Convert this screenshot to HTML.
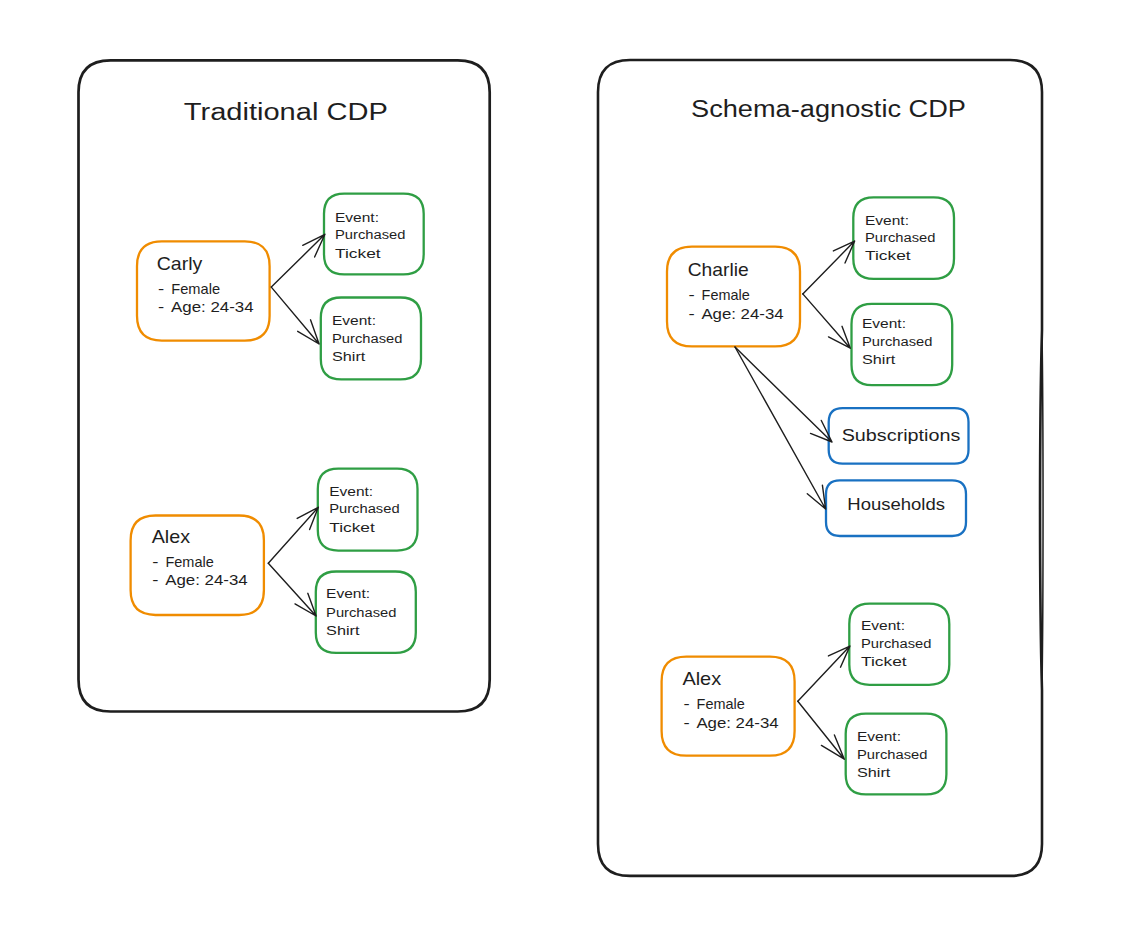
<!DOCTYPE html>
<html><head><meta charset="utf-8"><style>
html,body{margin:0;padding:0;background:#ffffff;}
body{width:1134px;height:928px;overflow:hidden;}
svg{display:block;}
text{font-family:"Liberation Sans",sans-serif;fill:#1e1e1e;}
</style></head><body>
<svg width="1134" height="928" viewBox="0 0 1134 928">
<rect width="1134" height="928" fill="#ffffff"/>
<path d="M110.50 60.30 L457.70 60.30 Q489.70 60.30 489.70 92.30 L489.70 679.50 Q489.70 711.50 457.70 711.50 L110.50 711.50 Q78.50 711.50 78.50 679.50 L78.50 92.30 Q78.50 60.30 110.50 60.30 Z" fill="none" stroke="#1e1e1e" stroke-width="2.7" stroke-linejoin="round"/>
<path d="M630 60 L1010 60 Q1042 60 1042 92 L1042 330 C1039.4 420 1039.4 600 1042 690 L1042 843.9 Q1042 875.9 1010 875.9 L630 875.9 Q598 875.9 598 843.9 L598 92 Q598 60 630 60 Z" fill="none" stroke="#1e1e1e" stroke-width="2.6" stroke-linejoin="round"/>
<path d="M1042 330 C1043.4 420 1043.4 600 1042 690" fill="none" stroke="#1e1e1e" stroke-width="1.5"/>
<path d="M161.85 241.30 L244.75 241.30 Q269.60 241.30 269.60 266.15 L269.60 315.85 Q269.60 340.70 244.75 340.70 L161.85 340.70 Q137.00 340.70 137.00 315.85 L137.00 266.15 Q137.00 241.30 161.85 241.30 Z" fill="none" stroke="#f08c00" stroke-width="2.3" stroke-linejoin="round"/>
<path d="M155.47 515.50 L239.02 515.50 Q263.90 515.50 263.90 540.38 L263.90 590.12 Q263.90 615.00 239.02 615.00 L155.47 615.00 Q130.60 615.00 130.60 590.12 L130.60 540.38 Q130.60 515.50 155.47 515.50 Z" fill="none" stroke="#f08c00" stroke-width="2.3" stroke-linejoin="round"/>
<path d="M691.95 246.60 L775.05 246.60 Q800.00 246.60 800.00 271.55 L800.00 321.45 Q800.00 346.40 775.05 346.40 L691.95 346.40 Q667.00 346.40 667.00 321.45 L667.00 271.55 Q667.00 246.60 691.95 246.60 Z" fill="none" stroke="#f08c00" stroke-width="2.3" stroke-linejoin="round"/>
<path d="M686.38 656.60 L769.83 656.60 Q794.60 656.60 794.60 681.38 L794.60 730.93 Q794.60 755.70 769.83 755.70 L686.38 755.70 Q661.60 755.70 661.60 730.93 L661.60 681.38 Q661.60 656.60 686.38 656.60 Z" fill="none" stroke="#f08c00" stroke-width="2.3" stroke-linejoin="round"/>
<path d="M344.20 193.60 L403.50 193.60 Q423.70 193.60 423.70 213.80 L423.70 254.20 Q423.70 274.40 403.50 274.40 L344.20 274.40 Q324.00 274.40 324.00 254.20 L324.00 213.80 Q324.00 193.60 344.20 193.60 Z" fill="none" stroke="#2f9e44" stroke-width="2.3" stroke-linejoin="round"/>
<path d="M341.27 297.50 L400.52 297.50 Q421.00 297.50 421.00 317.98 L421.00 358.92 Q421.00 379.40 400.52 379.40 L341.27 379.40 Q320.80 379.40 320.80 358.92 L320.80 317.98 Q320.80 297.50 341.27 297.50 Z" fill="none" stroke="#2f9e44" stroke-width="2.3" stroke-linejoin="round"/>
<path d="M338.30 468.60 L397.00 468.60 Q417.50 468.60 417.50 489.10 L417.50 530.10 Q417.50 550.60 397.00 550.60 L338.30 550.60 Q317.80 550.60 317.80 530.10 L317.80 489.10 Q317.80 468.60 338.30 468.60 Z" fill="none" stroke="#2f9e44" stroke-width="2.3" stroke-linejoin="round"/>
<path d="M336.15 571.50 L395.45 571.50 Q415.80 571.50 415.80 591.85 L415.80 632.55 Q415.80 652.90 395.45 652.90 L336.15 652.90 Q315.80 652.90 315.80 632.55 L315.80 591.85 Q315.80 571.50 336.15 571.50 Z" fill="none" stroke="#2f9e44" stroke-width="2.3" stroke-linejoin="round"/>
<path d="M873.67 197.40 L933.62 197.40 Q954.00 197.40 954.00 217.78 L954.00 258.52 Q954.00 278.90 933.62 278.90 L873.67 278.90 Q853.30 278.90 853.30 258.52 L853.30 217.78 Q853.30 197.40 873.67 197.40 Z" fill="none" stroke="#2f9e44" stroke-width="2.3" stroke-linejoin="round"/>
<path d="M871.85 303.80 L931.85 303.80 Q952.20 303.80 952.20 324.15 L952.20 364.85 Q952.20 385.20 931.85 385.20 L871.85 385.20 Q851.50 385.20 851.50 364.85 L851.50 324.15 Q851.50 303.80 871.85 303.80 Z" fill="none" stroke="#2f9e44" stroke-width="2.3" stroke-linejoin="round"/>
<path d="M869.57 603.70 L929.02 603.70 Q949.30 603.70 949.30 623.98 L949.30 664.52 Q949.30 684.80 929.02 684.80 L869.57 684.80 Q849.30 684.80 849.30 664.52 L849.30 623.98 Q849.30 603.70 869.57 603.70 Z" fill="none" stroke="#2f9e44" stroke-width="2.3" stroke-linejoin="round"/>
<path d="M865.85 713.70 L926.25 713.70 Q946.40 713.70 946.40 733.85 L946.40 774.15 Q946.40 794.30 926.25 794.30 L865.85 794.30 Q845.70 794.30 845.70 774.15 L845.70 733.85 Q845.70 713.70 865.85 713.70 Z" fill="none" stroke="#2f9e44" stroke-width="2.3" stroke-linejoin="round"/>
<path d="M842.58 408.20 L954.62 408.20 Q968.50 408.20 968.50 422.07 L968.50 449.82 Q968.50 463.70 954.62 463.70 L842.58 463.70 Q828.70 463.70 828.70 449.82 L828.70 422.07 Q828.70 408.20 842.58 408.20 Z" fill="none" stroke="#1971c2" stroke-width="2.3" stroke-linejoin="round"/>
<path d="M839.92 480.30 L952.08 480.30 Q966.00 480.30 966.00 494.23 L966.00 522.08 Q966.00 536.00 952.08 536.00 L839.92 536.00 Q826.00 536.00 826.00 522.08 L826.00 494.23 Q826.00 480.30 839.92 480.30 Z" fill="none" stroke="#1971c2" stroke-width="2.3" stroke-linejoin="round"/>
<path d="M271.3 287.1 L324.9 234.3 M302.7 245.3 L324.9 234.3 L314.6 257" fill="none" stroke="#1e1e1e" stroke-width="1.4" stroke-linecap="round" stroke-linejoin="round"/>
<path d="M271.3 287.1 L319.1 344 M297.7 331.3 L319.1 344 L310.5 319.8" fill="none" stroke="#1e1e1e" stroke-width="1.4" stroke-linecap="round" stroke-linejoin="round"/>
<path d="M268.3 563.2 L318.3 507.3 M297.2 518.4 L318.3 507.3 L309.6 529.5" fill="none" stroke="#1e1e1e" stroke-width="1.4" stroke-linecap="round" stroke-linejoin="round"/>
<path d="M268.3 563.2 L316.1 616 M295 603.9 L316.1 616 L307.8 593.3" fill="none" stroke="#1e1e1e" stroke-width="1.4" stroke-linecap="round" stroke-linejoin="round"/>
<path d="M802.8 293.9 L854.6 241.1 M833.4 250.9 L854.6 241.1 L845 263" fill="none" stroke="#1e1e1e" stroke-width="1.4" stroke-linecap="round" stroke-linejoin="round"/>
<path d="M802.8 293.9 L850.3 348.2 M828.5 336.9 L850.3 348.2 L842 326.3" fill="none" stroke="#1e1e1e" stroke-width="1.4" stroke-linecap="round" stroke-linejoin="round"/>
<path d="M735 347 L832 442 M810.5 433.4 L832 442 L821.3 420.5" fill="none" stroke="#1e1e1e" stroke-width="1.4" stroke-linecap="round" stroke-linejoin="round"/>
<path d="M735 347 L825.6 509 M807.3 493.8 L825.6 509 L822.4 485.2" fill="none" stroke="#1e1e1e" stroke-width="1.4" stroke-linecap="round" stroke-linejoin="round"/>
<path d="M797.8 701.2 L849.9 646.1 M828.4 655.9 L849.9 646.1 L840.5 667.2" fill="none" stroke="#1e1e1e" stroke-width="1.4" stroke-linecap="round" stroke-linejoin="round"/>
<path d="M797.8 701.2 L844.3 759.2 M821.4 745.4 L844.3 759.2 L834.4 735" fill="none" stroke="#1e1e1e" stroke-width="1.4" stroke-linecap="round" stroke-linejoin="round"/>
<text x="183.8" y="119.9" font-size="23" textLength="204" lengthAdjust="spacingAndGlyphs">Traditional CDP</text>
<text x="691" y="117.3" font-size="23" textLength="275" lengthAdjust="spacingAndGlyphs">Schema-agnostic CDP</text>
<text x="156.7" y="270.2" font-size="17.7" textLength="45.6" lengthAdjust="spacingAndGlyphs">Carly</text>
<text x="158.1" y="293.5" font-size="14.8" textLength="6.2" lengthAdjust="spacingAndGlyphs">-</text>
<text x="158.1" y="311.8" font-size="14.8" textLength="6.2" lengthAdjust="spacingAndGlyphs">-</text>
<text x="171.3" y="293.5" font-size="14.8" textLength="48.8" lengthAdjust="spacingAndGlyphs">Female</text>
<text x="171.1" y="311.8" font-size="14.8" textLength="82.5" lengthAdjust="spacingAndGlyphs">Age: 24-34</text>
<text x="151.7" y="543" font-size="17.7" textLength="38.4" lengthAdjust="spacingAndGlyphs">Alex</text>
<text x="152.2" y="567" font-size="14.8" textLength="6.2" lengthAdjust="spacingAndGlyphs">-</text>
<text x="152.2" y="585.3" font-size="14.8" textLength="6.2" lengthAdjust="spacingAndGlyphs">-</text>
<text x="165.4" y="567" font-size="14.8" textLength="48.4" lengthAdjust="spacingAndGlyphs">Female</text>
<text x="165.2" y="585.3" font-size="14.8" textLength="82.5" lengthAdjust="spacingAndGlyphs">Age: 24-34</text>
<text x="687.7" y="276" font-size="17.7" textLength="61" lengthAdjust="spacingAndGlyphs">Charlie</text>
<text x="688.4" y="300.2" font-size="14.8" textLength="6.2" lengthAdjust="spacingAndGlyphs">-</text>
<text x="688.4" y="319" font-size="14.8" textLength="6.2" lengthAdjust="spacingAndGlyphs">-</text>
<text x="701.6" y="300.2" font-size="14.8" textLength="48.2" lengthAdjust="spacingAndGlyphs">Female</text>
<text x="701.4" y="319" font-size="14.8" textLength="82.2" lengthAdjust="spacingAndGlyphs">Age: 24-34</text>
<text x="682.4" y="685.4" font-size="17.7" textLength="38.8" lengthAdjust="spacingAndGlyphs">Alex</text>
<text x="683.4" y="709.1" font-size="14.8" textLength="6.2" lengthAdjust="spacingAndGlyphs">-</text>
<text x="683.4" y="727.5" font-size="14.8" textLength="6.2" lengthAdjust="spacingAndGlyphs">-</text>
<text x="696.6" y="709.1" font-size="14.8" textLength="48.2" lengthAdjust="spacingAndGlyphs">Female</text>
<text x="696.4" y="727.5" font-size="14.8" textLength="82.2" lengthAdjust="spacingAndGlyphs">Age: 24-34</text>
<text x="335" y="221.6" font-size="12" textLength="44" lengthAdjust="spacingAndGlyphs">Event:</text>
<text x="335" y="239.4" font-size="12" textLength="70.4" lengthAdjust="spacingAndGlyphs">Purchased</text>
<text x="335" y="257.7" font-size="12" textLength="45.6" lengthAdjust="spacingAndGlyphs">Ticket</text>
<text x="332" y="325" font-size="12" textLength="44" lengthAdjust="spacingAndGlyphs">Event:</text>
<text x="332" y="342.8" font-size="12" textLength="70.4" lengthAdjust="spacingAndGlyphs">Purchased</text>
<text x="332" y="360.6" font-size="12" textLength="33.4" lengthAdjust="spacingAndGlyphs">Shirt</text>
<text x="329.2" y="495.5" font-size="12" textLength="44" lengthAdjust="spacingAndGlyphs">Event:</text>
<text x="329.2" y="513.3" font-size="12" textLength="70.4" lengthAdjust="spacingAndGlyphs">Purchased</text>
<text x="329.2" y="531.7" font-size="12" textLength="45.6" lengthAdjust="spacingAndGlyphs">Ticket</text>
<text x="326.1" y="598.4" font-size="12" textLength="44" lengthAdjust="spacingAndGlyphs">Event:</text>
<text x="326.1" y="616.8" font-size="12" textLength="70.4" lengthAdjust="spacingAndGlyphs">Purchased</text>
<text x="326.1" y="634.5" font-size="12" textLength="33.4" lengthAdjust="spacingAndGlyphs">Shirt</text>
<text x="865" y="224.6" font-size="12" textLength="44" lengthAdjust="spacingAndGlyphs">Event:</text>
<text x="865" y="241.6" font-size="12" textLength="70.4" lengthAdjust="spacingAndGlyphs">Purchased</text>
<text x="865" y="259.7" font-size="12" textLength="45.6" lengthAdjust="spacingAndGlyphs">Ticket</text>
<text x="862" y="328" font-size="12" textLength="44" lengthAdjust="spacingAndGlyphs">Event:</text>
<text x="862" y="345.6" font-size="12" textLength="70.4" lengthAdjust="spacingAndGlyphs">Purchased</text>
<text x="862" y="363.7" font-size="12" textLength="33.4" lengthAdjust="spacingAndGlyphs">Shirt</text>
<text x="861" y="630.3" font-size="12" textLength="44" lengthAdjust="spacingAndGlyphs">Event:</text>
<text x="861" y="648" font-size="12" textLength="70.4" lengthAdjust="spacingAndGlyphs">Purchased</text>
<text x="861" y="665.8" font-size="12" textLength="45.6" lengthAdjust="spacingAndGlyphs">Ticket</text>
<text x="857" y="741" font-size="12" textLength="44" lengthAdjust="spacingAndGlyphs">Event:</text>
<text x="857" y="758.7" font-size="12" textLength="70.4" lengthAdjust="spacingAndGlyphs">Purchased</text>
<text x="857" y="776.5" font-size="12" textLength="33.4" lengthAdjust="spacingAndGlyphs">Shirt</text>
<text x="841.7" y="441" font-size="16.8" textLength="118.7" lengthAdjust="spacingAndGlyphs">Subscriptions</text>
<text x="847.3" y="510" font-size="16.8" textLength="97.7" lengthAdjust="spacingAndGlyphs">Households</text>
</svg>
</body></html>
